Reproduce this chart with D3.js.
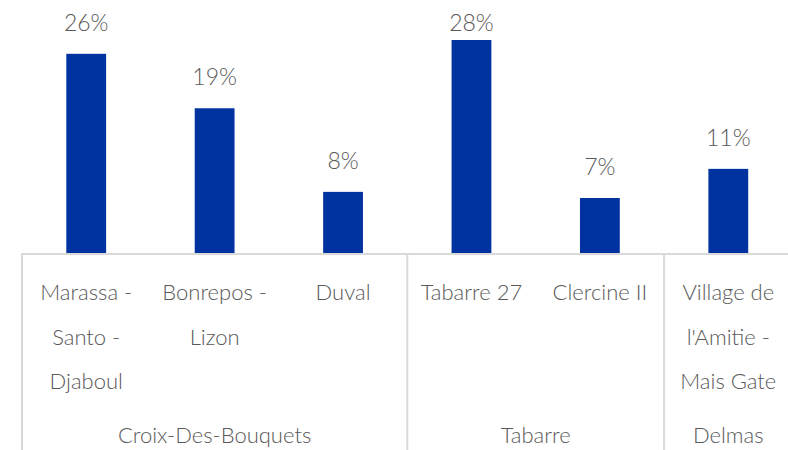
<!DOCTYPE html>
<html>
<head>
<meta charset="utf-8">
<script src="https://cdn.jsdelivr.net/npm/d3@7"></script>
<style>
  body { margin: 0; background: #fff; }
  text { font-family: "Lato", "Open Sans", sans-serif; font-weight: 300; fill: #595959; }
</style>
</head>
<body>
<div id="chart"></div>
<script>
// Sites, their commune, and share of households
const sites = ["Marassa - Santo - Djaboul", "Bonrepos - Lizon", "Duval", "Tabarre 27", "Clercine II", "Village de l'Amitie - Mais Gate"];
const siteLines = [
    ["Marassa -", "Santo -", "Djaboul"],
    ["Bonrepos -", "Lizon"],
    ["Duval"],
    ["Tabarre 27"],
    ["Clercine II"],
    ["Village de", "l'Amitie -", "Mais Gate"]
];
const communes = ["Croix-Des-Bouquets", "Croix-Des-Bouquets", "Croix-Des-Bouquets", "Tabarre", "Tabarre", "Delmas"];
const shares = [26.1, 19.0, 8.1, 27.9, 7.3, 11.1];

const width = 788;
const height = 450;
const baseY = 254;
const axisColor = "#d9d9d9";

const svg = d3.select("#chart")
    .append("svg")
    .attr("width", width)
    .attr("height", height);

const x = d3.scaleBand()
    .domain(sites)
    .range([22, 792.5])
    .paddingInner(0.69)
    .paddingOuter(0.345);

const y = d3.scaleLinear()
    .domain([0, 30])
    .range([baseY, baseY - 30 * 7.67]);

const step = x.step();

// bars
svg.selectAll("rect.bar")
    .data(sites)
    .join("rect")
    .attr("class", "bar")
    .attr("x", d => x(d))
    .attr("width", x.bandwidth())
    .attr("y", (d, i) => y(shares[i]))
    .attr("height", (d, i) => y(0) - y(shares[i]))
    .attr("fill", "#0033a0");

// value labels (kept inside the plot area)
svg.selectAll("text.value")
    .data(sites)
    .join("text")
    .attr("class", "value")
    .attr("x", d => x(d) + x.bandwidth() / 2)
    .attr("y", (d, i) => Math.max(31, y(shares[i]) - 23))
    .attr("text-anchor", "middle")
    .attr("font-size", "23px")
    .text((d, i) => `${Math.round(shares[i])}%`);

// axis line
svg.append("line")
    .attr("x1", 22).attr("x2", width)
    .attr("y1", baseY).attr("y2", baseY)
    .attr("stroke", axisColor)
    .attr("stroke-width", 2);

// group separators: left edge plus every commune change
const edges = [x.range()[0]];
communes.forEach((c, i) => {
    if (i > 0 && c !== communes[i - 1]) edges.push(x(sites[i]) + x.bandwidth() / 2 - step / 2);
});
svg.selectAll("line.sep")
    .data(edges)
    .join("line")
    .attr("class", "sep")
    .attr("x1", d => d).attr("x2", d => d)
    .attr("y1", baseY - 1).attr("y2", height)
    .attr("stroke", axisColor)
    .attr("stroke-width", 2);

// site labels
const siteLabel = svg.selectAll("text.site")
    .data(sites)
    .join("text")
    .attr("class", "site")
    .attr("text-anchor", "middle")
    .attr("font-size", "22px");

siteLabel.selectAll("tspan")
    .data((d, i) => siteLines[i].map(t => ({ t, cx: x(d) + x.bandwidth() / 2 })))
    .join("tspan")
    .attr("x", d => d.cx)
    .attr("y", (d, j) => 300 + j * 44.5)
    .text(d => d.t);

// commune labels centred under their sites
const groups = Array.from(new Set(communes));
svg.selectAll("text.commune")
    .data(groups)
    .join("text")
    .attr("class", "commune")
    .attr("text-anchor", "middle")
    .attr("font-size", "22px")
    .attr("x", g => {
        const idx = sites.filter((s, i) => communes[i] === g).map(s => x(s) + x.bandwidth() / 2);
        return d3.mean(idx);
    })
    .attr("y", 443)
    .text(g => g);
</script>
</body>
</html>
